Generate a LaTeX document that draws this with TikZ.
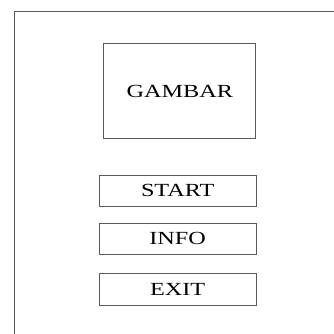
\documentclass[tikz,border=0pt]{standalone}
\usepackage{fontspec}
\setmainfont{Liberation Serif}
\usetikzlibrary{positioning}

\tikzset{
  frameline/.style={draw=black!65, line width=1pt},
  screenbox/.style={frameline, rectangle, inner sep=0pt, text=black,
    font=\fontsize{18.5}{20}\selectfont},
  picbox/.style={screenbox, minimum width=152pt, minimum height=95pt},
  menubtn/.style={screenbox, minimum width=157pt, minimum height=31.5pt}
}
\newcommand{\widetext}[1]{\scalebox{1.31}[1]{#1}}

\begin{document}
\begin{tikzpicture}[x=1pt,y=-1pt]

            \useasboundingbox (0,0) rectangle (334,333);

            % Screen frame
            \draw[frameline] (340,11) -- (14,11) -- (14,340);

            % Picture area
            \node[picbox] (gambar) at (179.8,91) {\widetext{GAMBAR}};

            % Menu buttons
            \node[menubtn] (start) at (177.7,190.8) {\widetext{START}};
            \node[menubtn, below=15.5pt of start] (info) {\widetext{INFO}};
            \node[menubtn, below=18.3pt of info] (exit) {\widetext{EXIT}};

\end{tikzpicture}
\end{document}
